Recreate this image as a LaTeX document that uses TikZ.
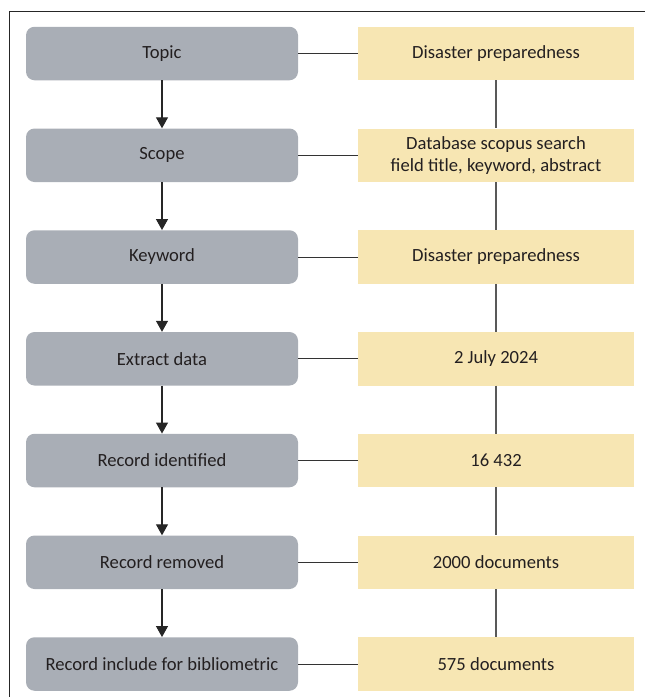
\documentclass[tikz,border=0pt]{standalone}
\usepackage{fontspec}
\setmainfont{Carlito}
\usetikzlibrary{arrows.meta}
\definecolor{graybox}{HTML}{A9AEB6}
\definecolor{yelbox}{HTML}{F7E6B3}
\definecolor{txt}{HTML}{231F20}
\begin{document}
\begin{tikzpicture}[x=1pt,y=-1pt,
  leftbox/.style={fill=graybox, rounded corners=8.5pt, minimum width=272pt, minimum height=53.5pt, inner sep=0pt, text=txt, font=\fontsize{18.6}{22}\selectfont, align=center},
  rightbox/.style={fill=yelbox, minimum width=276pt, minimum height=53.5pt, inner sep=0pt, text=txt, font=\fontsize{18.6}{22}\selectfont, align=center},
  flow/.style={draw=black!85, line width=1.1pt, -{Triangle[width=12pt,length=11pt]}},
  link/.style={draw=black!80, line width=1pt},
  vlink/.style={draw=black!65, line width=1.1pt}]
\useasboundingbox (0,0) rectangle (645,697);
\draw[black!85, line width=1pt] (645,11) -- (9,11) -- (9,697);
\foreach \i/\l/\r in {1/Topic/Disaster preparedness,
  2/Scope/{Database scopus search\\field title, keyword, abstract},
  3/Keyword/Disaster preparedness,
  4/Extract data/2 July 2024,
  5/Record identified/16 432,
  6/Record removed/2000 documents,
  7/Record include for bibliometric/575 documents}{
  \node[leftbox] (L\i) at (162, {53.5+101.75*(\i-1)}) {\l};
  \node[rightbox] (R\i) at (496, {53.5+101.75*(\i-1)}) {\r};
  \draw[link] (L\i.east) -- (R\i.west);
}
\foreach \i [evaluate=\i as \j using int(\i+1)] in {1,...,6}{
  \draw[flow] (L\i.south) -- (L\j.north);
  \draw[vlink] (R\i.south) -- (R\j.north);
}
\end{tikzpicture}
\end{document}
